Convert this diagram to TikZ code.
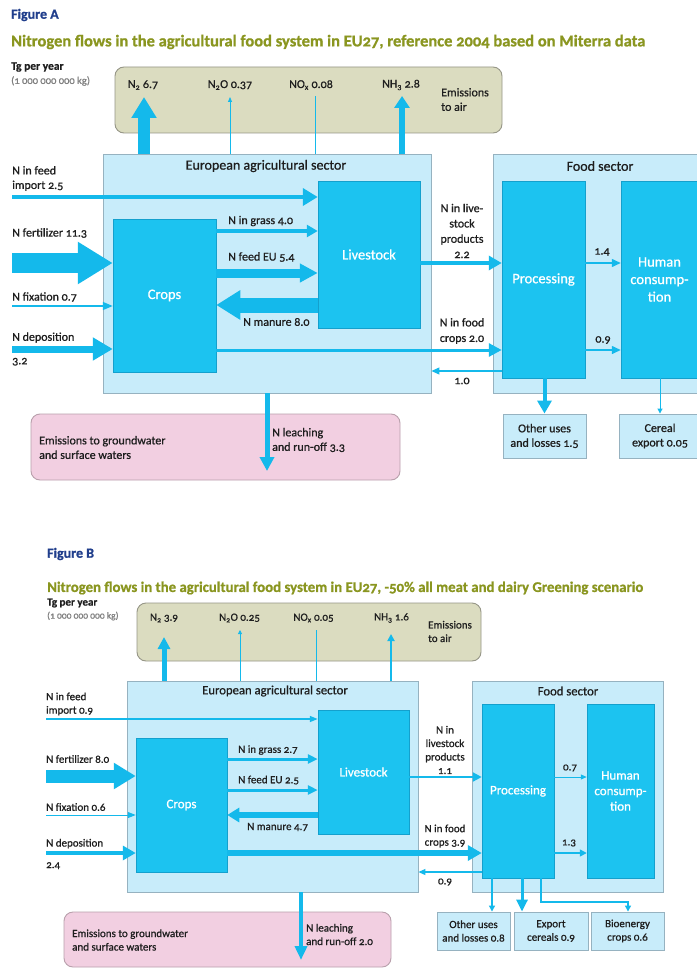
\documentclass[tikz,border=0pt]{standalone}
\usepackage{fontspec}
\setmainfont{Carlito}[Numbers=OldStyle,FakeBold=0.8]
\usetikzlibrary{arrows.meta,positioning,calc}

\definecolor{nblue}{RGB}{20,185,235}
\definecolor{boxblue}{RGB}{28,195,240}
\definecolor{boxline}{RGB}{20,160,205}
\definecolor{sectfill}{RGB}{200,236,250}
\definecolor{sectline}{RGB}{150,178,192}
\definecolor{airfill}{RGB}{219,220,192}
\definecolor{airline}{RGB}{150,150,135}
\definecolor{waterfill}{RGB}{242,207,225}
\definecolor{waterline}{RGB}{185,160,172}
\definecolor{titlegreen}{RGB}{138,150,32}
\definecolor{fignavy}{RGB}{32,62,140}
\definecolor{textgrey}{RGB}{30,30,30}

\newcommand{\lblA}{\fontsize{12}{14.5}\selectfont}
\newcommand{\lblB}{\fontsize{11}{13.5}\selectfont}

\begin{document}
\begin{tikzpicture}[x=1pt,y=-1pt,
    sector/.style={draw=sectline,fill=sectfill,line width=0.9pt,inner sep=0pt},
    stage/.style={draw=boxline,fill=boxblue,line width=0.5pt,inner sep=0pt,text=white,align=center},
    sink/.style={draw=sectline,fill=sectfill,line width=0.9pt,inner sep=0pt,align=center,text=textgrey},
    cloud/.style={rounded corners=9pt},
    lbl/.style={inner sep=0pt,align=left,text=textgrey},
    figname/.style={inner sep=0pt,anchor=west,text=fignavy,font=\bfseries\fontsize{14}{16}\selectfont},
    figtitle/.style={inner sep=0pt,anchor=west,text=titlegreen},
    flow/.style n args={3}{draw=nblue,line width=#1,-{Triangle[length=#2,width=#3]}},
    wire/.style={draw=nblue,line width=#1},
    wire/.default=0.8pt]

    \path[fill=white,use as bounding box] (0,0) rectangle (696,968);

    % ---------------- Figure A ----------------
    \node[figname] (figA) at (11,15) {Figure A};
    \node[figtitle,font=\bfseries\fontsize{16.5}{19}\selectfont] (titleA) at (11,42) {Nitrogen flows in the agricultural food system in EU27, reference 2004 based on Miterra data};
    \node[lbl,anchor=west,font=\bfseries\fontsize{11.5}{13}\selectfont] (unitA) at (11,67) {Tg per year};
    \node[lbl,anchor=west,text=gray,font=\fontsize{10.5}{12}\selectfont] (kgA) at (11,81) {(1 000 000 000 kg)};

    \node[sector,cloud,draw=airline,fill=airfill,minimum width=387pt,minimum height=66pt] (airA) at (308.5,100) {};
    \node[sector,minimum width=328pt,minimum height=239pt] (agriA) at (267,273.5) {};
    \node[sector,minimum width=215pt,minimum height=239pt] (foodA) at (600.5,273.5) {};
    \node[sector,cloud,draw=waterline,fill=waterfill,minimum width=369pt,minimum height=66pt] (waterA) at (215.5,447) {};

    \node[lbl,font=\fontsize{14}{16}\selectfont] (agrihdA) at (266,166) {European agricultural sector};
    \node[lbl,font=\fontsize{14}{16}\selectfont] (foodhdA) at (600,166) {Food sector};

    \node[stage,minimum width=103pt,minimum height=153pt,font=\fontsize{14.5}{17}\selectfont] (cropsA) at (164.5,295.5) {Crops};
    \node[stage,minimum width=102pt,minimum height=147pt,font=\fontsize{14.5}{17}\selectfont] (liveA) at (369,254.5) {Livestock};
    \node[stage,minimum width=83pt,minimum height=197pt,font=\fontsize{14.5}{17}\selectfont] (procA) at (543.5,279.5) {Processing};
    \node[stage,minimum width=77pt,minimum height=197pt,font=\fontsize{14.5}{17.5}\selectfont] (humA) at (659.5,279.5) {Human\\consump-\\tion};
    \node[sink,minimum width=83pt,minimum height=44pt,font=\lblA] (otherA) at (544.5,436) {Other uses\\and losses 1.5};
    \node[sink,minimum width=82pt,minimum height=44pt,font=\lblA] (cerealA) at (660,436) {Cereal\\export 0.05};

    % emissions to air
    \node[lbl,font=\lblA] (n2A) at (143,85) {N\textsubscript{2} 6.7};
    \node[lbl,font=\lblA] (n2oA) at (230,85) {N\textsubscript{2}O 0.37};
    \node[lbl,font=\lblA] (noxA) at (311,85) {NO\textsubscript{x} 0.08};
    \node[lbl,font=\lblA] (nh3A) at (401,85) {NH\textsubscript{3} 2.8};
    \node[lbl,anchor=west,font=\lblA] (airlblA) at (441,99.5) {Emissions\\to air};

    \coordinate (n2tipA) at (144,97);
    \coordinate (n2otipA) at (230,97);
    \coordinate (noxtipA) at (315,96);
    \coordinate (nh3tipA) at (402,96);
    \draw[flow={12pt}{21pt}{24pt}] (agriA.north -| n2tipA) -- (n2tipA);
    \draw[flow={0.8pt}{5pt}{4pt}] (agriA.north -| n2otipA) -- (n2otipA);
    \draw[wire] (agriA.north -| noxtipA) -- (noxtipA);
    \draw[flow={6pt}{12pt}{15pt}] (agriA.north -| nh3tipA) -- (nh3tipA);

    % inputs
    \coordinate (feedA) at (12,197);
    \coordinate (fertA) at (12,263);
    \coordinate (fixA) at (12,306);
    \coordinate (depoA) at (12,349);
    \draw[flow={4pt}{15pt}{17pt}] (feedA) -- (feedA -| liveA.west);
    \draw[flow={20pt}{35pt}{40pt}] (fertA) -- (fertA -| cropsA.west);
    \draw[flow={1.5pt}{10pt}{8pt}] (fixA) -- (fixA -| cropsA.west);
    \draw[flow={7pt}{20pt}{22pt}] (depoA) -- (depoA -| cropsA.west);
    \node[lbl,anchor=west,font=\lblA] at (12,178.5) {N in feed\\import 2.5};
    \node[lbl,anchor=west,font=\lblA] at (12,233) {N fertilizer 11.3};
    \node[lbl,anchor=west,font=\lblA] at (12,297) {N fixation 0.7};
    \node[lbl,anchor=west,font=\lblA] at (12,349) {N deposition\\[9pt]3.2};

    % flows inside
    \coordinate (grassA) at (270,231);
    \coordinate (feedEUA) at (270,273);
    \coordinate (manureA) at (270,305);
    \coordinate (foodcropA) at (460,350);
    \coordinate (prodA) at (460,263);
    \coordinate (backA) at (460,371);
    \coordinate (leachA) at (267,471);
    \draw[flow={4pt}{11pt}{12pt}] (cropsA.east |- grassA) -- (liveA.west |- grassA);
    \draw[flow={9pt}{18pt}{18pt}] (cropsA.east |- feedEUA) -- (liveA.west |- feedEUA);
    \draw[flow={15pt}{24pt}{28pt}] (liveA.west |- manureA) -- (cropsA.east |- manureA);
    \draw[flow={3pt}{13pt}{13pt}] (cropsA.east |- foodcropA) -- (procA.west |- foodcropA);
    \draw[flow={3.5pt}{13pt}{14pt}] (liveA.east |- prodA) -- (procA.west |- prodA);
    \draw[flow={1.5pt}{9pt}{8pt}] (procA.east |- prodA) -- (humA.west |- prodA);
    \draw[flow={1.5pt}{9pt}{8pt}] (procA.east |- foodcropA) -- (humA.west |- foodcropA);
    \draw[flow={1.2pt}{8pt}{7pt}] (procA.west |- backA) -- (agriA.east |- backA);
    \draw[flow={4pt}{13pt}{14pt}] (procA.south -| otherA.north) -- (otherA.north);
    \draw[flow={1pt}{5pt}{5pt}] (humA.south -| cerealA.north) -- (cerealA.north);
    \draw[flow={5pt}{14pt}{14pt}] (agriA.south -| leachA) -- (leachA);

    \node[lbl,anchor=west,font=\lblA] at (228,221) {N in grass 4.0};
    \node[lbl,anchor=west,font=\lblA] at (228,257) {N feed EU 5.4};
    \node[lbl,anchor=west,font=\lblA] at (243,322) {N manure 8.0};
    \node[lbl,align=center,font=\fontsize{12}{15.3}\selectfont] at (462,231) {N in live-\\stock\\products\\2.2};
    \node[lbl,align=center,font=\fontsize{12}{15.5}\selectfont] at (462,331) {N in food\\crops 2.0};
    \node[lbl,font=\lblA] at (602,252) {1.4};
    \node[lbl,font=\lblA] at (603,340) {0.9};
    \node[lbl,font=\lblA] at (462,381) {1.0};
    \node[lbl,anchor=west,font=\lblA] at (39,447.5) {Emissions to groundwater\\and surface waters};
    \node[lbl,anchor=west,font=\lblA] at (272,440) {N leaching\\and run-off 3.3};

    % ---------------- Figure B ----------------
    \node[figname] (figB) at (47,554) {Figure B};
    \node[figtitle,font=\bfseries\fontsize{14.8}{17}\selectfont] (titleB) at (47,588) {Nitrogen flows in the agricultural food system in EU27, -50\% all meat and dairy Greening scenario};
    \node[lbl,anchor=west,font=\bfseries\fontsize{11}{13}\selectfont] (unitB) at (47,603) {Tg per year};
    \node[lbl,anchor=west,text=gray,font=\fontsize{9.5}{11}\selectfont] (kgB) at (47,616) {(1 000 000 000 kg)};

    \node[sector,cloud,draw=airline,fill=airfill,minimum width=344pt,minimum height=58pt] (airB) at (309,632) {};
    \node[sector,minimum width=291pt,minimum height=211pt] (agriB) at (272.5,786.5) {};
    \node[sector,minimum width=191pt,minimum height=211pt] (foodB) at (567.5,786.5) {};
    \node[sector,cloud,draw=waterline,fill=waterfill,minimum width=327pt,minimum height=55pt] (waterB) at (227.5,939.5) {};

    \node[lbl,font=\fontsize{12.7}{15}\selectfont] (agrihdB) at (275,691) {European agricultural sector};
    \node[lbl,font=\fontsize{12.7}{15}\selectfont] (foodhdB) at (568,691) {Food sector};

    \node[stage,minimum width=91pt,minimum height=134pt,font=\fontsize{13}{15}\selectfont] (cropsB) at (181.5,805) {Crops};
    \node[stage,minimum width=91pt,minimum height=124pt,font=\fontsize{13}{15}\selectfont] (liveB) at (363.5,772) {Livestock};
    \node[stage,minimum width=72pt,minimum height=174pt,font=\fontsize{13}{15}\selectfont] (procB) at (518,791) {Processing};
    \node[stage,minimum width=67pt,minimum height=174pt,font=\fontsize{13}{15.5}\selectfont] (humB) at (620.5,791) {Human\\consump-\\tion};
    \node[sink,minimum width=73pt,minimum height=38pt,font=\lblB] (otherB) at (473.5,931) {Other uses\\and losses 0.8};
    \node[sink,minimum width=74pt,minimum height=38pt,font=\lblB] (exportB) at (551,931) {Export\\cereals 0.9};
    \node[sink,minimum width=73pt,minimum height=38pt,font=\lblB] (bioB) at (627.5,931) {Bioenergy\\crops 0.6};

    % emissions to air
    \node[lbl,font=\lblB] (n2B) at (164,618) {N\textsubscript{2} 3.9};
    \node[lbl,font=\lblB] (n2oB) at (239.5,618) {N\textsubscript{2}O 0.25};
    \node[lbl,font=\lblB] (noxB) at (313.5,618) {NO\textsubscript{x} 0.05};
    \node[lbl,font=\lblB] (nh3B) at (391.5,618) {NH\textsubscript{3} 1.6};
    \node[lbl,anchor=west,font=\lblB] (airlblB) at (428,631.5) {Emissions\\to air};

    \coordinate (n2tipB) at (164,637);
    \coordinate (n2otipB) at (240,630);
    \coordinate (noxtipB) at (316,630);
    \coordinate (nh3tipB) at (391,634);
    \draw[flow={5pt}{12pt}{12pt}] (agriB.north -| n2tipB) -- (n2tipB);
    \draw[flow={0.8pt}{4pt}{4pt}] (agriB.north -| n2otipB) -- (n2otipB);
    \draw[wire] (agriB.north -| noxtipB) -- (noxtipB);
    \draw[flow={2pt}{7pt}{7pt}] (agriB.north -| nh3tipB) -- (nh3tipB);

    % inputs
    \coordinate (feedB) at (46,719);
    \coordinate (fertB) at (46,776);
    \coordinate (fixB) at (46,815);
    \coordinate (depoB) at (46,853);
    \draw[flow={1.5pt}{8pt}{6pt}] (feedB) -- (feedB -| liveB.west);
    \draw[flow={13pt}{22pt}{25pt}] (fertB) -- (fertB -| cropsB.west);
    \draw[flow={1pt}{8pt}{6pt}] (fixB) -- (fixB -| cropsB.west);
    \draw[flow={4pt}{13pt}{14pt}] (depoB) -- (depoB -| cropsB.west);
    \node[lbl,anchor=west,font=\lblB] at (46,704) {N in feed\\import 0.9};
    \node[lbl,anchor=west,font=\lblB] at (46,759) {N fertilizer 8.0};
    \node[lbl,anchor=west,font=\lblB] at (46,807) {N fixation 0.6};
    \node[lbl,anchor=west,font=\lblB] at (46,854) {N deposition\\[8pt]2.4};

    % flows inside
    \coordinate (grassB) at (270,759);
    \coordinate (feedEUB) at (270,790);
    \coordinate (manureB) at (270,815);
    \coordinate (foodcropB) at (445,853);
    \coordinate (prodB) at (445,777);
    \coordinate (backB) at (445,872);
    \coordinate (leachB) at (301,960);
    \coordinate (otherxB) at (492,900);
    \coordinate (exportxB) at (522,900);
    \coordinate (biostartB) at (541,900);
    \coordinate (bioturnB) at (628,902);
    \draw[flow={3pt}{10pt}{9pt}] (cropsB.east |- grassB) -- (liveB.west |- grassB);
    \draw[flow={3pt}{10pt}{9pt}] (cropsB.east |- feedEUB) -- (liveB.west |- feedEUB);
    \draw[flow={6pt}{12pt}{14pt}] (liveB.west |- manureB) -- (cropsB.east |- manureB);
    \draw[flow={6pt}{14pt}{15pt}] (cropsB.east |- foodcropB) -- (procB.west |- foodcropB);
    \draw[flow={2.5pt}{9pt}{9pt}] (liveB.east |- prodB) -- (procB.west |- prodB);
    \draw[flow={1pt}{6pt}{5pt}] (procB.east |- prodB) -- (humB.west |- prodB);
    \draw[flow={1.5pt}{7pt}{7pt}] (procB.east |- foodcropB) -- (humB.west |- foodcropB);
    \draw[flow={1.2pt}{7pt}{6pt}] (procB.west |- backB) -- (agriB.east |- backB);
    \draw[flow={1.2pt}{6pt}{6pt}] (procB.south -| otherxB) -- (otherB.north -| otherxB);
    \draw[flow={3pt}{12pt}{11pt}] (procB.south -| exportxB) -- (exportB.north -| exportxB);
    \draw[flow={1.2pt}{6pt}{6pt}] (procB.south -| biostartB) -- (biostartB |- bioturnB) -- (bioturnB) -- (bioB.north -| bioturnB);
    \draw[flow={3.5pt}{14pt}{12pt}] (agriB.south -| leachB) -- (leachB);

    \node[lbl,anchor=west,font=\lblB] at (238,750) {N in grass 2.7};
    \node[lbl,anchor=west,font=\lblB] at (238,780) {N feed EU 2.5};
    \node[lbl,anchor=west,font=\lblB] at (247,827) {N manure 4.7};
    \node[lbl,align=center,font=\lblB] at (445,750) {N in\\livestock\\products\\1.1};
    \node[lbl,align=center,font=\lblB] at (445,836) {N in food\\crops 3.9};
    \node[lbl,font=\lblB] at (570,768) {0.7};
    \node[lbl,font=\lblB] at (569,843) {1.3};
    \node[lbl,font=\lblB] at (445,882) {0.9};
    \node[lbl,anchor=west,font=\lblB] at (72,940) {Emissions to groundwater\\and surface waters};
    \node[lbl,anchor=west,font=\lblB] at (306,934.5) {N leaching\\and run-off 2.0};
\end{tikzpicture}
\end{document}
